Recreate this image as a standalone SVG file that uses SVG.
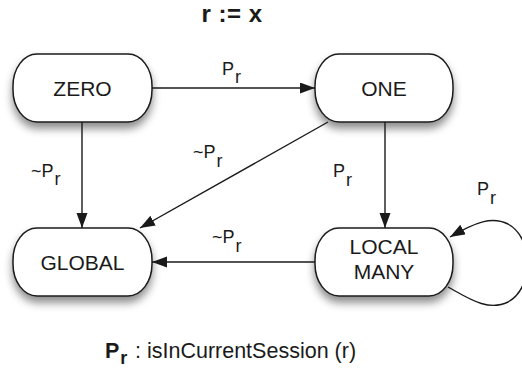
<svg xmlns="http://www.w3.org/2000/svg" width="522" height="371" viewBox="0 0 522 371">
<style>
.node rect{fill:#fff;stroke:#1a1a1a;stroke-width:1.5}
.nt{font-family:"Liberation Sans",Arial,sans-serif;font-size:21px;fill:#1a1a1a;text-anchor:middle}
.lb{font-family:"Liberation Sans",Arial,sans-serif;font-size:18px;fill:#1a1a1a}
.edge{fill:none;stroke:#1a1a1a;stroke-width:1.4}
</style>
<defs>
<filter id="sh" x="-20%" y="-20%" width="140%" height="160%">
<feDropShadow dx="0" dy="6" stdDeviation="4" flood-color="#000" flood-opacity="0.45"/>
</filter>
<marker id="ah" markerWidth="16" markerHeight="12" refX="15" refY="5.5" orient="auto" markerUnits="userSpaceOnUse">
<path d="M0,0 L15,5.5 L0,11 z" fill="#1a1a1a"/>
</marker>
</defs>
<rect width="522" height="371" fill="#fff"/>
<text x="232" y="22" text-anchor="middle" font-family="Liberation Sans,Arial,sans-serif" font-size="24" font-weight="bold" fill="#1a1a1a" letter-spacing="0.5">r := x</text>
<g id="zero" class="node"><rect x="13" y="54" width="139" height="68" rx="24" ry="32" filter="url(#sh)"/><text class="nt" x="82.5" y="95.5">ZERO</text></g>
<g id="one" class="node"><rect x="315" y="54" width="138" height="68" rx="24" ry="32" filter="url(#sh)"/><text class="nt" x="384" y="95.5">ONE</text></g>
<g id="global" class="node"><rect x="13" y="228" width="139" height="68" rx="24" ry="32" filter="url(#sh)"/><text class="nt" x="82.5" y="269.5">GLOBAL</text></g>
<g id="localmany" class="node"><rect x="315" y="228" width="138" height="68" rx="24" ry="32" filter="url(#sh)"/><text class="nt" x="384" y="254">LOCAL</text><text class="nt" x="384" y="279">MANY</text></g>
<g id="connectors">
<line class="edge" x1="152" y1="88" x2="315" y2="88" marker-end="url(#ah)"/>
<line class="edge" x1="82" y1="122" x2="82" y2="228" marker-end="url(#ah)"/>
<line class="edge" x1="385" y1="122" x2="385" y2="228" marker-end="url(#ah)"/>
<line class="edge" x1="328" y1="122" x2="140" y2="228" marker-end="url(#ah)"/>
<line class="edge" x1="315" y1="262" x2="152" y2="262" marker-end="url(#ah)"/>
<path class="edge" d="M448,287 C468,298 488,312 508,302 C534,288 534,238 508,224 C492,216 476,222 450,237" marker-end="url(#ah)"/>
</g>
<g id="labels">
<text class="lb" x="222" y="75">P<tspan dx="1" dy="8">r</tspan></text>
<text class="lb" x="31" y="177">~P<tspan dx="1" dy="8">r</tspan></text>
<text class="lb" x="193" y="158">~P<tspan dx="1" dy="9">r</tspan></text>
<text class="lb" x="333" y="177">P<tspan dx="1" dy="9">r</tspan></text>
<text class="lb" x="477" y="195">P<tspan dx="1" dy="9">r</tspan></text>
<text class="lb" x="212" y="243">~P<tspan dx="1" dy="9">r</tspan></text>
</g>
<g id="legend" font-family="Liberation Sans,Arial,sans-serif" fill="#1a1a1a">
<text x="105" y="358" font-size="21.5" font-weight="bold">P<tspan font-size="18" dx="1" dy="6">r</tspan></text>
<text x="135" y="358" font-size="21.5">: isInCurrentSession (r)</text>
</g>
</svg>
